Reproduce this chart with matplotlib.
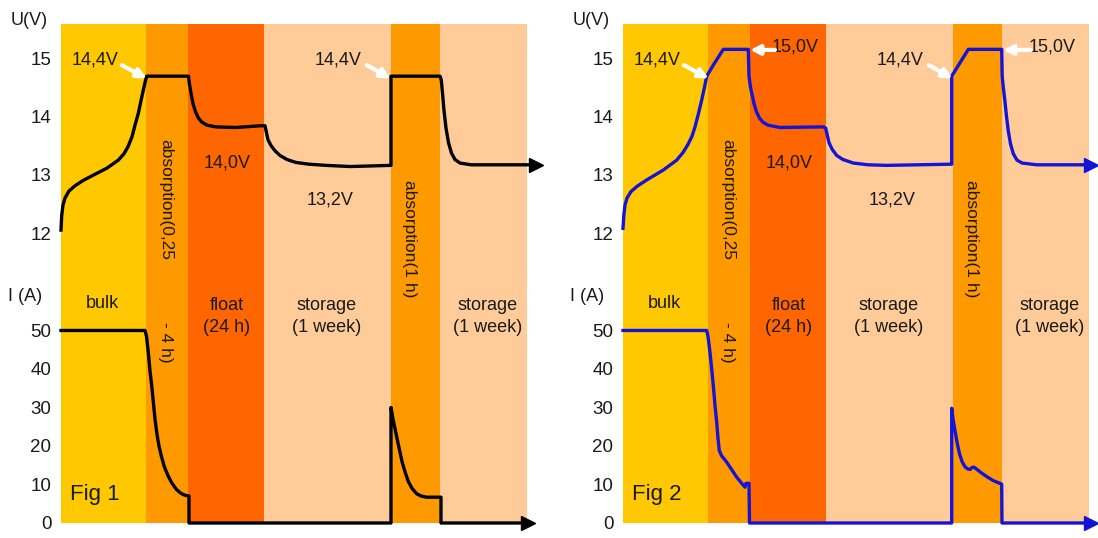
import matplotlib
matplotlib.use("Agg")
import matplotlib.pyplot as plt

FONT = ["Liberation Sans", "DejaVu Sans"]

# charging phases (time in arbitrary units across the panel)
PHASE_EDGES = [0, 85, 127, 203, 330, 379, 466]
PHASE_COLORS = ["#FFC800", "#FF9900", "#FF6600", "#FFCC99", "#FF9900", "#FFCC99"]

U_TICKS = [12, 13, 14, 15]
I_TICKS = [0, 10, 20, 30, 40, 50]

# Fig 1: voltage and current
T_U1 = [0, 0.7, 2, 4, 8, 14, 22, 32, 45.7, 57.3, 63, 67, 71, 74, 77.3, 80, 82.3, 84, 85.7,
        127.5, 128.5, 130, 132, 134.5, 137.5, 141, 146, 155, 175, 200, 204,
        205, 207, 210, 214, 219, 226, 235, 248, 265, 289, 330,
        330, 379,
        380.3, 381.5, 383, 385, 387.5, 390.5, 394, 399, 410, 475]
U1 = [12.05, 12.3, 12.48, 12.6, 12.72, 12.81, 12.9, 12.99, 13.11, 13.25, 13.36, 13.48, 13.65,
      13.85, 14.05, 14.27, 14.45, 14.58, 14.69,
      14.69, 14.55, 14.4, 14.22, 14.08, 13.97, 13.9, 13.85, 13.82, 13.81, 13.84, 13.84,
      13.76, 13.6, 13.5, 13.41, 13.33, 13.26, 13.21, 13.18, 13.16, 13.14, 13.16,
      14.69, 14.69,
      14.62, 14.4, 14.1, 13.8, 13.55, 13.37, 13.26, 13.2, 13.17, 13.17]
T_I1 = [0, 84, 85.5, 87.3, 89, 90.7, 92.5, 94, 96, 98, 100.5, 103.5, 107, 111, 115.5, 120, 124,
        128, 128,
        330, 330, 332, 334, 336, 338.5, 341, 344, 347.3, 351, 355.7, 360, 365.7, 380, 380, 467]
I1 = [50, 50, 48.5, 44.3, 39.5, 35.7, 31, 27, 23, 20, 17.2, 14.5, 12.3, 10.3, 8.7, 7.7, 7.2,
      7, 0,
      0, 30, 27, 24.5, 22, 19, 16, 13.3, 10.8, 9, 7.6, 7, 6.7, 6.7, 0, 0]

# Fig 2: voltage and current
T_U2 = [0, 0.8, 2, 4, 8, 14, 23.7, 40.3, 53.7, 60, 65, 69, 72, 75.5, 78.7, 81.5, 83.7,
        90.3, 100.3, 125.3,
        126, 127.5, 129, 131, 133.5, 136.5, 140, 145, 157, 200.3, 202.7,
        204, 206, 209, 213.7, 220, 230.3, 245, 263.7, 327, 328.7,
        328.7, 345.3, 378.7, 379.2,
        380.3, 382, 383.5, 385.3, 387.5, 390.3, 394, 399, 413.7, 468]
U2 = [12.08, 12.3, 12.48, 12.6, 12.71, 12.8, 12.91, 13.08, 13.25, 13.38, 13.52, 13.66, 13.82,
      14.05, 14.28, 14.5, 14.69,
      14.88, 15.15, 15.15,
      14.69, 14.5, 14.38, 14.22, 14.08, 13.97, 13.9, 13.85, 13.81, 13.82, 13.8,
      13.7, 13.55, 13.44, 13.33, 13.26, 13.2, 13.17, 13.16, 13.18, 13.18,
      14.69, 15.15, 15.15, 14.69,
      14.5, 14.25, 14.0, 13.75, 13.53, 13.36, 13.25, 13.2, 13.17, 13.17]
T_I2 = [0, 83.7, 85, 87, 88.7, 90.3, 92, 93.7, 95, 96.3, 98.5, 103.7, 113.7, 120, 122, 123,
        126, 126.5,
        328.7, 328.7, 330, 332, 334, 336.5, 339, 342, 345, 347, 349, 351, 354, 358, 364,
        370.3, 378.7, 379, 468]
I2 = [50, 50, 48.5, 44.3, 40, 35.7, 30.5, 26.2, 22, 18.8, 17.5, 15.8, 11.9, 9.9, 9.3, 10.3,
      10.3, 0,
      0, 29.8, 27, 24, 21, 18, 16, 14.6, 14, 13.9, 14.4, 14.5, 13.9, 13.1, 12,
      11, 10.1, 0, 0]


def draw_panel(fig, left, t_u, u, t_i, i, color, fig_label, with_15v):
    ax_u = fig.add_axes([left, 0.0279, 0.4244, 0.9275])
    ax_u.set_xlim(0, 466)
    ax_u.set_ylim(7.026, 15.585)
    for k, c in enumerate(PHASE_COLORS):
        ax_u.axvspan(PHASE_EDGES[k], PHASE_EDGES[k + 1], color=c, lw=0, zorder=0)

    ax_i = ax_u.twinx()
    ax_i.set_ylim(0, 129.6)
    ax_i.yaxis.tick_left()

    for ax, ticks in ((ax_u, U_TICKS), (ax_i, I_TICKS)):
        ax.set_yticks(ticks)
        ax.set_xticks([])
        ax.tick_params(axis="y", length=0, pad=7, labelsize=13.5, labelcolor="#1a1a1a")
        for lab in ax.get_yticklabels():
            lab.set_family(FONT)
        for s in ax.spines.values():
            s.set_visible(False)

    ax_u.plot(t_u, u, color=color, lw=2.4, clip_on=False, zorder=3)
    ax_u.plot([t_u[-1]], [u[-1]], marker=">", ms=10, color=color, clip_on=False, zorder=3)
    ax_i.plot(t_i, i, color=color, lw=2.4, clip_on=False, zorder=3)
    ax_i.plot([t_i[-1]], [i[-1]], marker=">", ms=10, color=color, clip_on=False, zorder=3)

    txt = dict(family=FONT, fontsize=13, color="#1a1a1a", ha="center", va="center")
    ax_u.text(-0.068, 1.008, "U(V)", transform=ax_u.transAxes, **txt)
    ax_u.text(-0.077, 0.453, "I (A)", transform=ax_u.transAxes, **txt)

    # voltage annotations
    arrow = dict(arrowstyle="-|>", color="white", lw=3, mutation_scale=14,
                 shrinkA=0, shrinkB=0)
    ax_u.text(34, 14.97, "14,4V", **txt)
    ax_u.annotate("", xy=(85.7, 14.65), xytext=(60.7, 14.88), arrowprops=arrow)
    ax_u.text(277, 14.97, "14,4V", **txt)
    ax_u.annotate("", xy=(329.5, 14.65), xytext=(305.7, 14.88), arrowprops=arrow)
    if with_15v:
        ax_u.text(172, 15.19, "15,0V", **txt)
        ax_u.annotate("", xy=(127, 15.14), xytext=(152, 15.14), arrowprops=arrow)
        ax_u.text(429, 15.19, "15,0V", **txt)
        ax_u.annotate("", xy=(380, 15.14), xytext=(408, 15.14), arrowprops=arrow)
    ax_u.text(166, 13.2, "14,0V", **txt)
    ax_u.text(269, 12.57, "13,2V", **txt)
    rot = dict(txt, fontsize=12.5, rotation=270)
    ax_u.text(105, 12.57, "absorption(0,25", **rot)
    ax_u.text(349, 11.9, "absorption(1 h)", **rot)

    # phase labels
    ax_i.text(105, 46.8, "- 4 h)", **rot)
    ax_i.text(41, 57.1, "bulk", **txt)
    ax_i.text(166, 53.6, "float\n(24 h)", linespacing=1.35, **txt)
    ax_i.text(266, 53.6, "storage\n(1 week)", linespacing=1.35, **txt)
    ax_i.text(427, 53.6, "storage\n(1 week)", linespacing=1.35, **txt)
    ax_i.text(34, 7.5, fig_label, family=FONT, fontsize=16, color="#1a1a1a",
              ha="center", va="center")


fig = plt.figure(figsize=(10.98, 5.38), dpi=100)
draw_panel(fig, 61 / 1098, T_U1, U1, T_I1, I1, "#000000", "Fig 1", False)
draw_panel(fig, 623 / 1098, T_U2, U2, T_I2, I2, "#1414D8", "Fig 2", True)
fig.savefig("out.png", dpi=100)
